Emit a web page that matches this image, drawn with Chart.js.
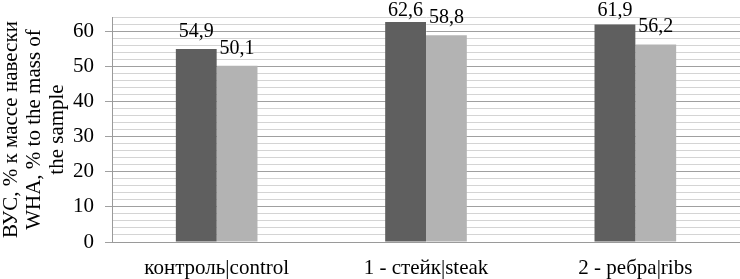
<!DOCTYPE html>
<html>
<head>
<meta charset="utf-8">
<script src="https://cdn.jsdelivr.net/npm/chart.js@4"></script>
<style>
  html, body { margin: 0; padding: 0; background: #fff; }
  #wrap { width: 740px; height: 279px; }
</style>
</head>
<body>
<div id="wrap"><canvas id="whaChart"></canvas></div>
<script>
// categories and values
const categories = ['контроль|control', '1 - стейк|steak', '2 - ребра|ribs'];
const seriesDark = [54.9, 62.6, 61.9];
const seriesLight = [50.1, 58.8, 56.2];
const axisTitle = ['ВУС, % к массе навески', 'WHA, % to the mass of', 'the sample'];

const serif = 'Liberation Serif';

// value labels above each bar, comma as decimal separator
const valueLabels = {
  id: 'valueLabels',
  afterDatasetsDraw(chart) {
    const ctx = chart.ctx;
    ctx.save();
    ctx.font = '20px "' + serif + '"';
    ctx.fillStyle = '#000';
    ctx.textAlign = 'center';
    ctx.textBaseline = 'alphabetic';
    chart.data.datasets.forEach((ds, i) => {
      chart.getDatasetMeta(i).data.forEach((bar, j) => {
        const txt = ds.data[j].toFixed(1).replace('.', ',');
        // keep the label inside the canvas when the bar is tall
        ctx.fillText(txt, bar.x, Math.max(bar.y - 12, 16));
      });
    });
    ctx.restore();
  }
};

const whaChart = new Chart(document.getElementById('whaChart'), {
  type: 'bar',
  data: {
    labels: categories,
    datasets: [{
      data: seriesDark,
      backgroundColor: '#5f5f5f',
      barPercentage: 1,
      categoryPercentage: 0.39
    }, {
      data: seriesLight,
      backgroundColor: '#b3b3b3',
      barPercentage: 1,
      categoryPercentage: 0.39
    }]
  },
  options: {
    responsive: true,
    maintainAspectRatio: false,
    animation: false,
    layout: { padding: { top: 17, right: 0, left: 0, bottom: 0 } },
    plugins: {
      legend: { display: false },
      tooltip: { enabled: false }
    },
    scales: {
      x: {
        grid: { display: false, drawTicks: false },
        border: { color: '#9a9a9a' },
        ticks: { color: '#000', font: { family: serif, size: 21 }, padding: 14 },
        afterFit(scale) { scale.height = 37; }
      },
      y: {
        min: 0,
        max: 64,
        border: { color: '#9a9a9a' },
        grid: {
          color: (c) => c.tick && c.tick.value % 10 === 0 ? '#a0a0a0' : '#d4d4d4',
          tickColor: (c) => c.tick && c.tick.value % 10 === 0 ? '#a0a0a0' : 'rgba(0,0,0,0)',
          tickLength: 7
        },
        ticks: {
          stepSize: 2,
          autoSkip: false,
          color: '#000',
          font: { family: serif, size: 21 },
          padding: 11,
          callback: (v) => v % 10 === 0 ? v : ''
        },
        title: {
          display: true,
          text: axisTitle,
          color: '#000',
          font: { family: serif, size: 21, lineHeight: 1.1 },
          padding: 0
        },
        afterFit(scale) {
          scale.width = 112;
          scale.paddingTop = 0;
          scale.paddingBottom = 0;
        }
      }
    }
  },
  plugins: [valueLabels]
});
</script>
</body>
</html>
